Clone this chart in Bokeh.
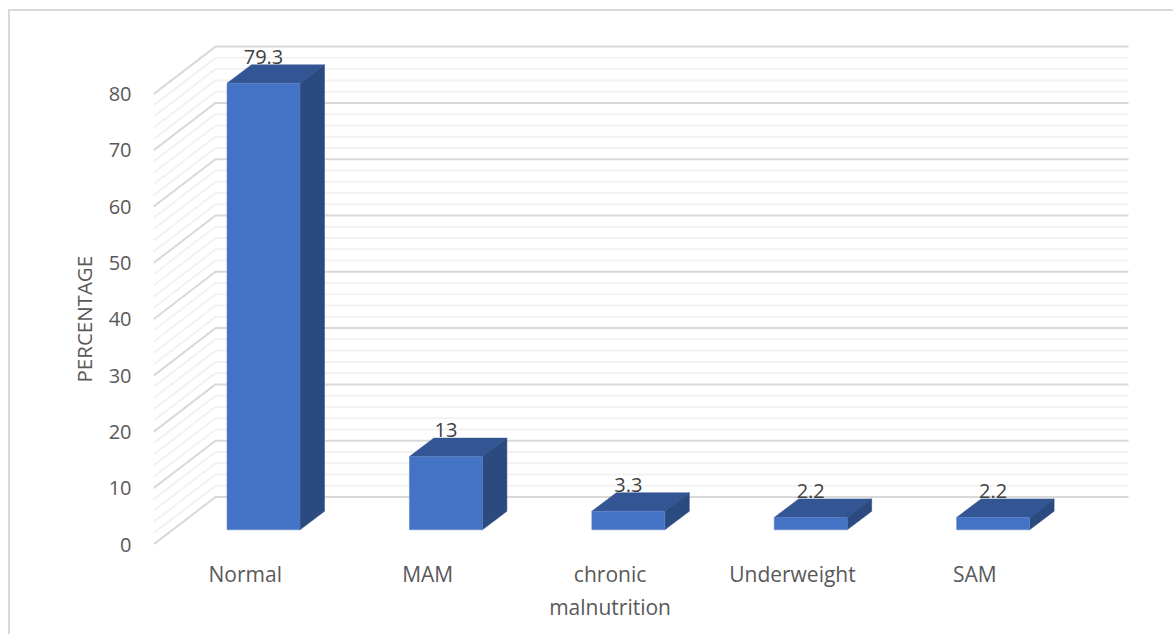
from bokeh.embed import file_html
from bokeh.resources import INLINE
from bokeh.plotting import figure
from bokeh.models import FixedTicker, Range1d, Title
from bokeh.core.properties import value

# Chart data
categories = ["Normal", "MAM", "chronic\nmalnutrition", "Underweight", "SAM"]
percentages = [79.3, 13, 3.3, 2.2, 2.2]
value_labels = ["79.3", "13", "3.3", "2.2", "2.2"]
y_ticks = [0, 10, 20, 30, 40, 50, 60, 70, 80]
minor_step = 2
y_title = "PERCENTAGE"

FONT = "Open Sans"
W, H = 1173, 634
LEFT, TOP, BOTTOM = 153, 30, 544      # plot frame edges in page pixels
PX_PER_UNIT = 5.63                    # vertical pixels per percentage point
PX_PER_CAT = 182.4                    # horizontal pixels per category
FIRST_BAR_PX = 263.0                  # centre of the first bar's front face


def dx(px):
    return px / PX_PER_CAT


def dy(px):
    return px / PX_PER_UNIT


x_start = -(FIRST_BAR_PX - LEFT) / PX_PER_CAT
x_end = x_start + (W - LEFT) / PX_PER_CAT

# Outer chart border, open on the right and bottom where the page ends
border_css = (
    ":host::after{content:'';position:absolute;left:8px;top:9px;right:0;bottom:0;"
    "border-left:2px solid #d9d9d9;border-top:2px solid #d9d9d9;pointer-events:none}"
)

p = figure(
    width=W, height=H, output_backend="svg", toolbar_location=None,
    x_range=Range1d(x_start, x_end),
    y_range=Range1d(0, (BOTTOM - TOP) / PX_PER_UNIT),
    min_border_left=LEFT, min_border_right=0, min_border_top=TOP,
    min_border_bottom=H - BOTTOM,
    outline_line_color=None, background_fill_color="white",
    border_fill_color="white", stylesheets=[border_css],
)
p.grid.visible = False

# Floor-to-wall projection of the 3D box
wall_dx = dx(62)
wall_dy = dy(47.5)
grid_end = x_start + dx(1128 - LEFT)
wall_x = x_start + wall_dx

levels = list(range(0, y_ticks[-1] + 1, minor_step))
minor = [v for v in levels if v not in y_ticks]


def grid_paths(vals):
    xs = [[x_start, wall_x, grid_end] for _ in vals]
    ys = [[v, v + wall_dy, v + wall_dy] for v in vals]
    return xs, ys


xs, ys = grid_paths(minor)
p.multi_line(xs, ys, line_color="#f2f2f2", line_width=2)
xs, ys = grid_paths(y_ticks)
p.multi_line(xs, ys, line_color="#d9d9d9", line_width=2)

# Bars: front face plus the top and side faces offset into depth
bar_w = dx(73)
base = dy(BOTTOM - 529.3)
depth_x = dx(24.5)
depth_y = dy(18.5)
positions = list(range(len(categories)))

lefts = [i - bar_w / 2 for i in positions]
rights = [i + bar_w / 2 for i in positions]
tops = [base + v for v in percentages]

# Values sit just above the back edge of each bar's top face
p.text(
    positions, [t + depth_y for t in tops], text=value_labels,
    text_font=value(FONT), text_font_size="20px", text_color="#404040",
    text_align="center", text_baseline="bottom", y_offset=-1,
)

p.patches(
    [[l, r, r + depth_x, l + depth_x] for l, r in zip(lefts, rights)],
    [[t, t, t + depth_y, t + depth_y] for t in tops],
    fill_color="#335593", line_color="#335593", line_width=0.5,
)
p.patches(
    [[r, r + depth_x, r + depth_x, r] for r in rights],
    [[base, base + depth_y, t + depth_y, t] for t in tops],
    fill_color="#2a4a80", line_color="#2a4a80", line_width=0.5,
)
p.quad(
    left=lefts, right=rights, bottom=base, top=tops,
    fill_color="#4472c4", line_color="#5f86cc", line_width=0.5,
)

# Axes
p.yaxis.ticker = FixedTicker(ticks=y_ticks)
p.yaxis.major_label_standoff = 16

p.add_layout(Title(
    text=y_title, align="left", offset=162, standoff=15,
    text_font=FONT, text_font_size="20.5px", text_font_style="normal",
    text_color="#595959",
), "left")

label_ticks = [i - 0.1 for i in positions]
p.xaxis.ticker = FixedTicker(ticks=label_ticks)
p.xaxis.major_label_overrides = dict(zip(label_ticks, categories))
p.xaxis.major_label_standoff = 9
p.xaxis.major_label_orientation = "horizontal"

for ax in (p.xaxis[0], p.yaxis[0]):
    ax.axis_line_color = None
    ax.major_tick_line_color = None
    ax.minor_tick_line_color = None
    ax.major_label_text_font = FONT
    ax.major_label_text_font_size = "20px"
    ax.major_label_text_color = "#595959"
p.xaxis.major_label_text_font_size = "21px"

open("out.html", "w").write(file_html(p, INLINE))
